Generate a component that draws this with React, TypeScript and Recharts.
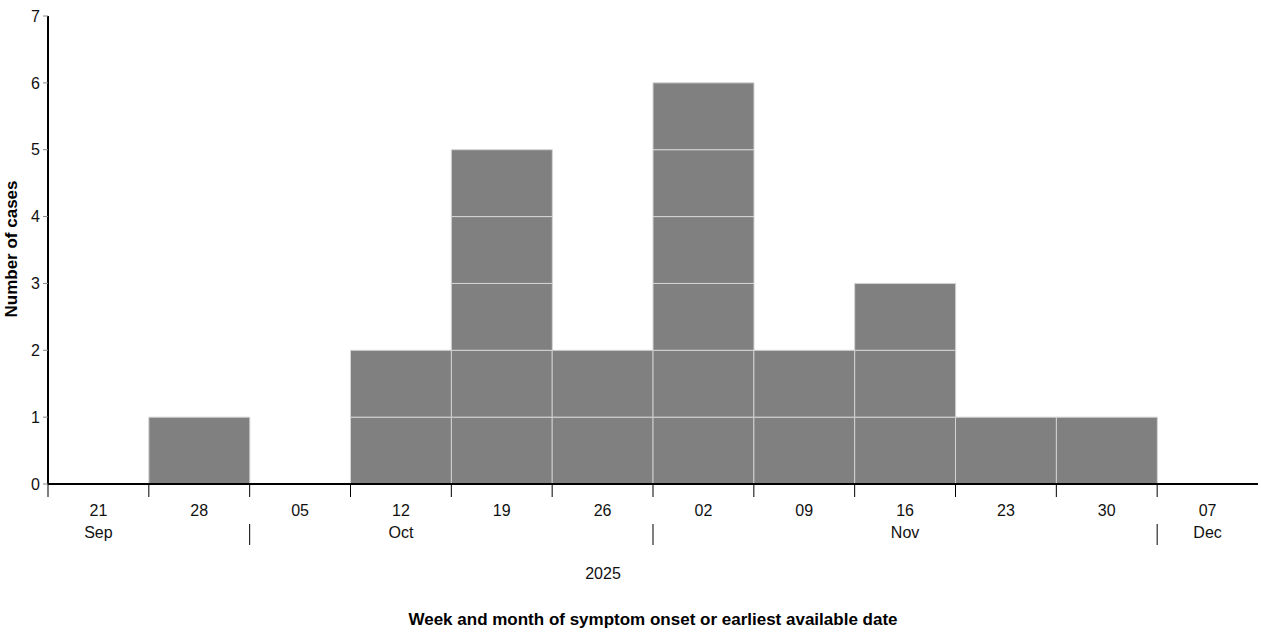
import { Bar, BarChart, XAxis, YAxis } from "recharts";

// week starting days and case counts
const weeks = ["21", "28", "05", "12", "19", "26", "02", "09", "16", "23", "30", "07"];
const cases = [0, 1, 0, 2, 5, 2, 6, 2, 3, 1, 1, 0];
// month label placed under the given week index
const monthLabels: Record<number, string> = { 0: "Sep", 3: "Oct", 8: "Nov", 11: "Dec" };
// week indexes where a new month starts (separator line)
const monthStarts = [2, 6, 11];
const yearLabel = "2025";
const yTicks = [0, 1, 2, 3, 4, 5, 6, 7];

const maxCases = Math.max(...cases);
const stackKeys = Array.from({ length: maxCases }, (_, i) => `c${i + 1}`);

// one block per case, stacked
const chartData = weeks.map((week, i) => {
  const row: Record<string, string | number | null> = { week };
  stackKeys.forEach((key, k) => {
    row[key] = cases[i] >= k + 1 ? 1 : null;
  });
  return row;
});

const FONT = "'Liberation Sans', Arial, sans-serif";
const PLOT_LEFT = 48;
const PLOT_RIGHT = 1258;
const BAND = (PLOT_RIGHT - PLOT_LEFT) / weeks.length;

function WeekTick(props: any) {
  const { x, y, index, payload } = props;
  const left = x - BAND / 2;
  return (
    <g>
      <line x1={left} x2={left} y1={y} y2={y + 13} stroke="#000" strokeWidth={1} />
      <text x={x} y={y + 32} textAnchor="middle" fontSize={16} fill="#111" fontFamily={FONT}>
        {payload.value}
      </text>
      {monthLabels[index] && (
        <text x={x} y={y + 54} textAnchor="middle" fontSize={16} fill="#111" fontFamily={FONT}>
          {monthLabels[index]}
        </text>
      )}
      {monthStarts.includes(index) && (
        <line x1={left} x2={left} y1={y + 40} y2={y + 61} stroke="#000" strokeWidth={1} />
      )}
    </g>
  );
}

export default function App() {
  return (
    <div style={{ position: "absolute", left: 0, top: 0 }}>
      <BarChart
        width={1261}
        height={643}
        data={chartData}
        margin={{ top: 16, right: 3, left: 0, bottom: 0 }}
        barCategoryGap={0}
        barGap={0}
      >
        <XAxis
          dataKey="week"
          height={159}
          interval={0}
          tickLine={false}
          tickSize={0}
          tickMargin={0}
          axisLine={{ stroke: "#000", strokeWidth: 2 }}
          tick={<WeekTick />}
          label={{
            content: () => (
              <g fontFamily={FONT}>
                <text x={603} y={579} textAnchor="middle" fill="#111" fontSize={16}>
                  {yearLabel}
                </text>
                <text x={653} y={625} textAnchor="middle" fill="#000" fontWeight="bold" fontSize={17}>
                  Week and month of symptom onset or earliest available date
                </text>
              </g>
            ),
          }}
        />
        <YAxis
          width={48}
          domain={[0, 7]}
          ticks={yTicks}
          interval={0}
          tickSize={5}
          tickMargin={3}
          tickLine={{ stroke: "#888" }}
          axisLine={{ stroke: "#000", strokeWidth: 2 }}
          tick={{ fontSize: 16, fill: "#111", fontFamily: FONT }}
          label={{
            content: () => (
              <text
                x={17}
                y={249}
                transform="rotate(-90 17 249)"
                textAnchor="middle"
                fontFamily={FONT}
                fontSize={17}
                fontWeight="bold"
                fill="#000"
              >
                Number of cases
              </text>
            ),
          }}
        />
        {stackKeys.map((key) => (
          <Bar
            key={key}
            dataKey={key}
            stackId="cases"
            fill="#808080"
            stroke="#d4d4d4"
            strokeWidth={1}
            isAnimationActive={false}
          />
        ))}
      </BarChart>
    </div>
  );
}
